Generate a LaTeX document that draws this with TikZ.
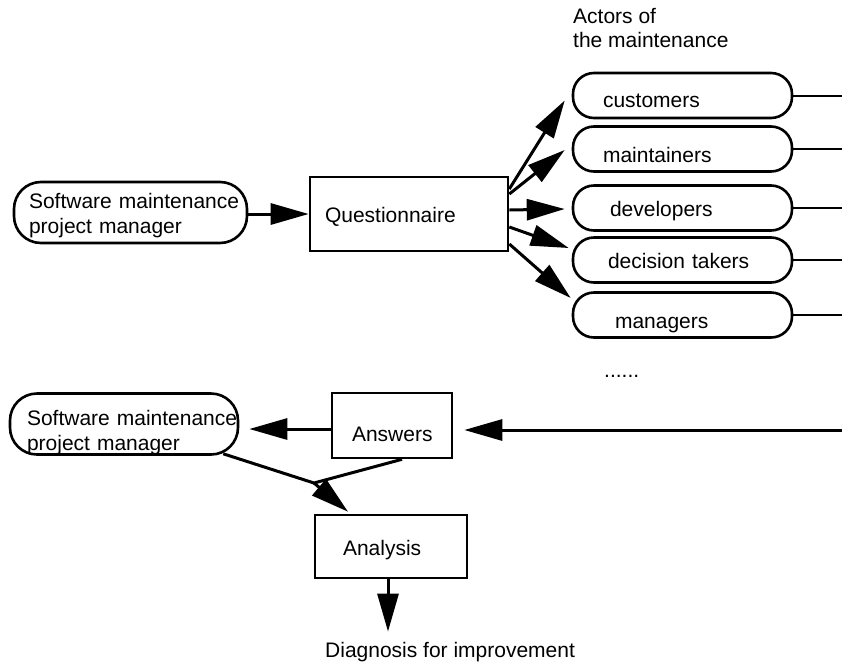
\documentclass[tikz,border=0pt]{standalone}
\usepackage{fontspec}
\setmainfont{Liberation Sans}
\usetikzlibrary{arrows.meta,calc}
\begin{document}
\begin{tikzpicture}[x=1pt,y=-1pt,
  every node/.style={font=\fontsize{21}{25}\selectfont},
  rbox/.style={draw,line width=2.6pt,rounded corners=21pt,minimum width=219pt,minimum height=45pt,inner xsep=0pt,inner ysep=0pt,text width=219pt,align=left,text depth=0pt},
  mgr/.style={draw,line width=2.6pt,rounded corners=27pt,minimum height=61pt,align=left,inner ysep=0pt},
  sbox/.style={draw,line width=2.6pt,inner ysep=0pt,align=left,text depth=0pt},
  arr/.style={line width=3pt,-{Triangle[length=38pt,width=21pt]}},
  thinline/.style={line width=2pt},
  lbl/.style={inner sep=0pt,align=left}
]
\useasboundingbox (0,0) rectangle (842,667);
\fill[white] (0,0) rectangle (842,667);

% left manager node (top)
\node[mgr, text width=203pt, inner xsep=15pt] (pm1) at (130.5,212.5)
  {\rule{0pt}{20.4pt}\mbox{Software maintenance}\\project manager};
% questionnaire
\node[sbox, text width=168pt, inner xsep=15pt, text height=16pt, minimum height=74pt] (q) at (409,214) {Questionnaire};

% actors
\node[lbl, anchor=north west, font=\fontsize{21}{24}\selectfont] (act) at (573,8) {Actors of\\the maintenance};
\node[rbox, text height=24pt] (cust) at (682.5,95.5) {\hspace*{30pt}customers};
\node[rbox, text height=26pt] (maint) at (682.5,149) {\hspace*{30pt}maintainers};
\node[rbox, text height=16pt] (dev) at (682.5,208) {\hspace*{37pt}developers};
\node[rbox, text height=16pt] (dec) at (682.5,260) {\hspace*{35pt}decision takers};
\node[rbox, text height=26pt] (mgrs) at (682.5,315) {\hspace*{42pt}managers};
\node[lbl, anchor=base west] (dots) at (604,377) {......};

\coordinate (re) at (842,0);
\foreach \n in {cust,maint,dev,dec,mgrs}
  \draw[thinline] (\n.east) -- (\n.east -| re);

% bottom part
\node[mgr, text width=194pt, inner xsep=17pt] (pm2) at (124,424)
  {\rule{0pt}{31.4pt}\mbox{Software maintenance}\\project manager};
\node[sbox, text width=80pt, inner xsep=20pt, text height=31pt, minimum height=65pt] (ans) at (392,425.5) {Answers};
\node[sbox, text width=96pt, inner xsep=28pt, text height=17pt, minimum height=63pt] (an) at (391,546.5) {Analysis};
\node[lbl, anchor=base west] (diag) at (325,657) {Diagnosis for improvement};

% connectors top
\draw[arr] (pm1.east |- q.west) -- (q.west);
\draw[arr] ([shift={(0,-25)}]q.east) -- ([shift={(-7,5)}]cust.west);
\draw[arr] ([shift={(0,-20)}]q.east) -- ([shift={(-7,1)}]maint.west);
\draw[arr] ([shift={(0,-4)}]q.east) -- ([shift={(-7,1)}]dev.west);
\draw[arr] ([shift={(0,13)}]q.east) -- ([shift={(-3,-12)}]dec.west);
\draw[arr] ([shift={(0,30)}]q.east) -- ([shift={(-1,-17)}]mgrs.west);

% connectors bottom
\coordinate (ain) at (842,430);
\draw[arr] (ain) -- ([shift={(11,4.5)}]ans.east);
\draw[arr] ([shift={(0,3.5)}]ans.west) -- ([shift={(10,5)}]pm2.east);
\coordinate (j) at (314,483);
\draw[line width=3pt] ([shift={(-16,-2)}]pm2.south east) -- (j) -- ([shift={(10,0)}]ans.south);
\draw[arr] (j) -- ([shift={(-43,-2)}]an.north);
\draw[arr, shorten >=10pt] ([shift={(-3,0)}]an.south) -- ([shift={(-3,0)}]an.south |- diag.north);
\end{tikzpicture}
\end{document}
